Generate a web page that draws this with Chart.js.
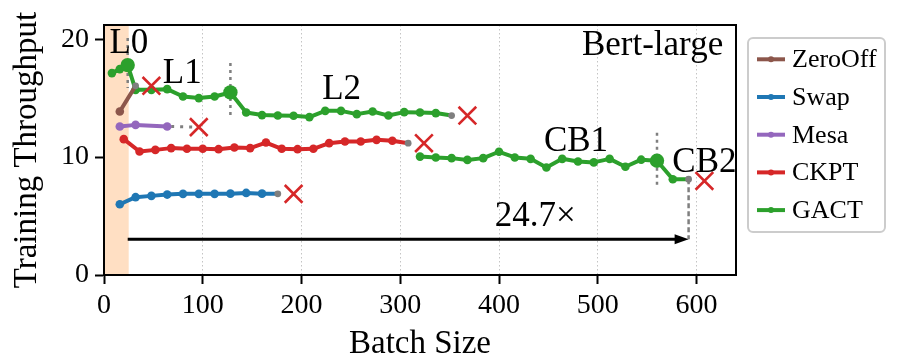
<!DOCTYPE html>
<html lang="en">
<head>
<meta charset="UTF-8">
<title>Bert-large throughput</title>
<script src="https://cdn.jsdelivr.net/npm/chart.js@4.4.0/dist/chart.umd.min.js"></script>
<style>
  html, body { margin: 0; padding: 0; background: #fff; }
  #chart { display: block; }
</style>
</head>
<body>
<canvas id="chart" width="898" height="364"></canvas>
<script>
// values (batch size -> training throughput)
var zeroOffX = [16, 32];
var zeroOffY = [13.86, 16.04];
var swapX = [16, 32, 48, 64, 80, 96, 112, 128, 144, 160, 176];
var swapY = [6.0, 6.6, 6.71, 6.82, 6.88, 6.88, 6.88, 6.9, 6.96, 6.9, 6.88];
var mesaX = [16, 32, 64];
var mesaY = [12.59, 12.73, 12.59];
var ckptX = [20, 36, 52, 68, 84, 100, 116, 132, 148, 164, 180, 196, 212, 228, 244, 260, 276, 292, 308];
var ckptY = [11.52, 10.47, 10.61, 10.76, 10.7, 10.7, 10.67, 10.81, 10.76, 11.23, 10.7, 10.67, 10.7, 11.18, 11.32, 11.32, 11.46, 11.38, 11.18];
var gactX = [8, 16, 24, 32, 48, 64, 80, 96, 112, 128, 144, 160, 176, 192, 208, 224, 240, 256, 272, 288, 304, 320, 336, 352];
var gactY = [17.12, 17.46, 17.8, 15.7, 15.7, 15.76, 15.14, 15.0, 15.14, 15.48, 13.78, 13.56, 13.52, 13.5, 13.39, 13.92, 13.92, 13.64, 13.86, 13.52, 13.81, 13.78, 13.73, 13.52];
var gactCbX = [320, 336, 352, 368, 384, 400, 416, 432, 448, 464, 480, 496, 512, 528, 544, 560, 576, 592];
var gactCbY = [10.04, 9.96, 9.91, 9.76, 9.91, 10.45, 9.97, 9.85, 9.12, 9.85, 9.63, 9.55, 9.85, 9.18, 9.78, 9.69, 8.12, 8.12];

// out of memory crosses
var oomX = [48, 192, 96, 324, 368, 608];
var oomY = [16.04, 6.88, 12.54, 11.18, 13.52, 7.98];

// GACT level switch points and their dotted guides
var switchX = [24, 128, 560];
var switchTop = [20.1, 17.97, 12.07];
var switchBottom = [15.85, 13.44, 7.55];

// speedup arrow
var arrowX = [24, 592];
var arrowY = 3.03;
var shadeX = [0, 25];

var xTicks = [0, 100, 200, 300, 400, 500, 600];
var yTicks = [0, 10, 20];

var legendLabels = ['ZeroOff', 'Swap', 'Mesa', 'CKPT', 'GACT'];

var notes = [
  { text: 'L0', x: 25.2, y: 19.6 },
  { text: 'L1', x: 79.2, y: 17.05 },
  { text: 'L2', x: 240.6, y: 15.7 },
  { text: 'CB1', x: 478, y: 11.3 },
  { text: 'CB2', x: 608, y: 9.55 },
  { text: 'Bert-large', x: 555.5, y: 19.46 },
  { text: '24.7\u00d7', x: 436.8, y: 4.95 }
];

var BROWN = '#8c564b', BLUE = '#1f77b4', PURPLE = '#9467bd', RED = '#d62728', GREEN = '#2ca02c';
var GRAY = '#7f7f7f';
var colors = [BROWN, BLUE, PURPLE, RED, GREEN];
var SERIF = '"Liberation Serif", "Times New Roman", serif';

Chart.defaults.font.family = SERIF;
Chart.defaults.color = '#000';

function pts(xs, ys) {
  return xs.map(function (x, i) { return { x: x, y: ys[i] }; });
}

function series(label, xs, ys, color, grayEnd) {
  var last = xs.length - 1;
  return {
    label: label,
    data: pts(xs, ys),
    showLine: true,
    borderColor: color,
    backgroundColor: color,
    borderWidth: 4,
    borderJoinStyle: 'round',
    borderCapStyle: 'round',
    pointRadius: function (c) {
      if (grayEnd && c.dataIndex === last) return 3.4;
      if (label === 'GACT' && switchX.indexOf(c.raw.x) >= 0) return 7.2;
      return 4.3;
    },
    pointBackgroundColor: function (c) {
      return grayEnd && c.dataIndex === last ? GRAY : color;
    },
    pointBorderWidth: 0
  };
}

function guide(xs, ys, dash, width) {
  return {
    data: pts(xs, ys),
    showLine: true,
    borderColor: GRAY,
    borderWidth: width,
    borderDash: dash,
    pointRadius: 0
  };
}

var datasets = [
  {
    label: 'OOM',
    data: pts(oomX, oomY),
    pointStyle: 'crossRot',
    pointRadius: 12.5,
    pointBorderColor: RED,
    pointBorderWidth: 2.6,
    showLine: false
  },
  series('ZeroOff', zeroOffX, zeroOffY, BROWN, true),
  series('GACT', gactX, gactY, GREEN, true),
  series('GACT', gactCbX, gactCbY, GREEN, true),
  series('CKPT', ckptX, ckptY, RED, true),
  series('Mesa', mesaX, mesaY, PURPLE, false),
  series('Swap', swapX, swapY, BLUE, true),
  guide([mesaX[mesaX.length - 1] + 4, oomX[2]], [mesaY[mesaY.length - 1], oomY[2]], [3, 6], 3),
  guide([arrowX[1], arrowX[1]], [gactCbY[gactCbY.length - 1], arrowY], [5, 3], 2.5)
];
switchX.forEach(function (x, i) {
  datasets.push(guide([x, x], [switchTop[i], switchBottom[i]], [3, 4], 2.5));
});

var overlay = {
  id: 'overlay',
  beforeDatasetsDraw: function (chart) {
    var ctx = chart.ctx, xs = chart.scales.x, a = chart.chartArea;
    var x0 = xs.getPixelForValue(shadeX[0]), x1 = xs.getPixelForValue(shadeX[1]);
    ctx.save();
    ctx.fillStyle = 'rgb(255,223,195)';
    ctx.fillRect(x0, a.top, x1 - x0, a.bottom - a.top);
    ctx.restore();
  },
  afterDatasetsDraw: function (chart) {
    var ctx = chart.ctx, xs = chart.scales.x, ys = chart.scales.y;
    ctx.save();
    // arrow
    var ax0 = xs.getPixelForValue(arrowX[0]), ax1 = xs.getPixelForValue(arrowX[1]);
    var ay = ys.getPixelForValue(arrowY);
    ctx.strokeStyle = '#000';
    ctx.fillStyle = '#000';
    ctx.lineWidth = 3;
    ctx.beginPath();
    ctx.moveTo(ax0, ay);
    ctx.lineTo(ax1 - 10, ay);
    ctx.stroke();
    ctx.beginPath();
    ctx.moveTo(ax1, ay);
    ctx.lineTo(ax1 - 14, ay - 5);
    ctx.lineTo(ax1 - 14, ay + 5);
    ctx.closePath();
    ctx.fill();
    // text notes
    ctx.font = '35px ' + SERIF;
    ctx.textAlign = 'center';
    ctx.textBaseline = 'middle';
    notes.forEach(function (n) {
      ctx.fillText(n.text, xs.getPixelForValue(n.x), ys.getPixelForValue(n.y));
    });
    ctx.restore();
  },
  afterDraw: function (chart) {
    var ctx = chart.ctx, a = chart.chartArea;
    ctx.save();
    ctx.strokeStyle = '#000';
    ctx.lineWidth = 2;
    ctx.strokeRect(a.left, a.top, a.right - a.left, a.bottom - a.top);

    // legend
    var lx = a.right + 12, ly = 38, lw = 137, lh = 194;
    ctx.fillStyle = 'rgba(255,255,255,0.8)';
    ctx.strokeStyle = '#cccccc';
    ctx.lineWidth = 2;
    ctx.beginPath();
    ctx.roundRect(lx, ly, lw, lh, 5);
    ctx.fill();
    ctx.stroke();
    ctx.font = '26px ' + SERIF;
    ctx.textAlign = 'left';
    ctx.textBaseline = 'middle';
    legendLabels.forEach(function (label, i) {
      var y = ly + 21.3 + i * 37.7;
      ctx.strokeStyle = colors[i];
      ctx.fillStyle = colors[i];
      ctx.lineWidth = 4;
      ctx.beginPath();
      ctx.moveTo(lx + 9, y);
      ctx.lineTo(lx + 37, y);
      ctx.stroke();
      ctx.beginPath();
      ctx.arc(lx + 23, y, 3, 0, Math.PI * 2);
      ctx.fill();
      ctx.fillStyle = '#000';
      ctx.fillText(label, lx + 44, y + 1);
    });
    ctx.restore();
  }
};

new Chart(document.getElementById('chart').getContext('2d'), {
  type: 'scatter',
  data: { datasets: datasets },
  plugins: [overlay],
  options: {
    responsive: false,
    animation: false,
    devicePixelRatio: 1,
    layout: { padding: { top: 25, right: 162, bottom: 0, left: 0 } },
    plugins: { legend: { display: false }, tooltip: { enabled: false } },
    scales: {
      x: {
        type: 'linear',
        min: 0,
        max: 640,
        afterBuildTicks: function (s) { s.ticks = xTicks.map(function (v) { return { value: v }; }); },
        afterFit: function (s) { s.height = 89; },
        ticks: { font: { size: 28 }, color: '#000', padding: 5, maxRotation: 0 },
        grid: { color: '#c4c4c4', lineWidth: 1, tickLength: 9, tickColor: '#000', tickWidth: 2 },
        border: { display: true, color: '#000', width: 2, dash: [1.5, 2.5] },
        title: { display: true, text: 'Batch Size', font: { size: 33 }, color: '#000', padding: { top: 0, bottom: 0 } }
      },
      y: {
        type: 'linear',
        min: 0,
        max: 21.2,
        afterBuildTicks: function (s) { s.ticks = yTicks.map(function (v) { return { value: v }; }); },
        afterFit: function (s) { s.width = 104; },
        ticks: { font: { size: 28 }, color: '#000', padding: 6 },
        grid: { drawOnChartArea: false, tickLength: 9, tickColor: '#000', tickWidth: 2 },
        border: { display: true, color: '#000', width: 2 },
        title: { display: true, text: 'Training Throughput', font: { size: 33 }, color: '#000', padding: { top: 8, bottom: 0 } }
      }
    }
  }
});
</script>
</body>
</html>
